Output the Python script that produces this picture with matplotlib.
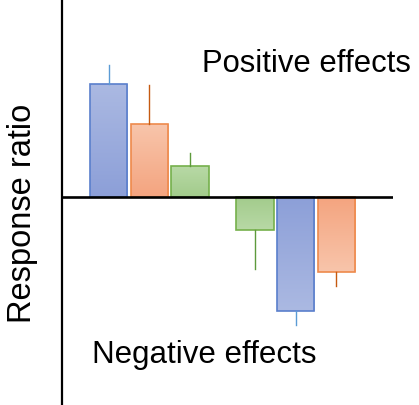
"""
Conceptual bar chart of positive and negative response ratios.

Bars are drawn with a soft vertical gradient (darker at the zero line)
and one-sided error bars pointing away from zero.
"""

import matplotlib

matplotlib.use("Agg")

import matplotlib.pyplot as plt
import numpy as np
from matplotlib.colors import LinearSegmentedColormap

# Data (response ratio, arbitrary units).
positions = [0.0, 1.0, 2.0, 3.6, 4.6, 5.6]
values = [1.125, 0.73, 0.305, -0.335, -1.142, -0.749]
errors = [0.19, 0.387, 0.133, 0.384, 0.137, 0.136]
series = ["blue", "orange", "green", "green", "blue", "orange"]

# Style per series: (colour near zero, colour away from zero, edge, error bar).
STYLES = {
    "blue": ("#8c9fd8", "#abb9e2", "#5a7fcc", "#5b9bd5"),
    "orange": ("#f4a47f", "#f8c5ab", "#ee8a4c", "#c55a11"),
    "green": ("#a2cb8b", "#b8d9a6", "#75b04c", "#5e9a3c"),
}

BAR_WIDTH = 0.92
FONT = "Liberation Sans"


def draw_gradient_bar(ax, x, value, err, style):
    """Draw one bar with a vertical gradient fill, outline and error bar."""
    near, far, edge, err_color = style
    cmap = LinearSegmentedColormap.from_list("grad", [near, far])
    grad = np.linspace(0, 1, 256).reshape(-1, 1)
    left = x - BAR_WIDTH / 2
    right = x + BAR_WIDTH / 2
    # origin="lower" puts row 0 at y=0 so the dark end sits on the zero line.
    if value >= 0:
        extent = (left, right, 0, value)
        img = grad
    else:
        extent = (left, right, value, 0)
        img = grad[::-1]
    ax.imshow(
        img,
        cmap=cmap,
        extent=extent,
        origin="lower",
        aspect="auto",
        interpolation="bicubic",
        zorder=1,
    )
    ax.bar(
        x,
        value,
        width=BAR_WIDTH,
        facecolor="none",
        edgecolor=edge,
        linewidth=1.2,
        zorder=2,
    )
    # One-sided error bar pointing away from zero.
    tip = value + np.sign(value) * err
    ax.plot([x, x], [value, tip], color=err_color, linewidth=1.0, zorder=2)


def main():
    fig = plt.figure(figsize=(4.19, 4.05), dpi=100)
    ax = fig.add_axes([62 / 419, 0.0, (393 - 62) / 419, 1.0])

    for x, v, e, s in zip(positions, values, errors, series):
        draw_gradient_bar(ax, x, v, e, STYLES[s])

    ax.set_xlim(-1.145, 6.99)
    ax.set_ylim(-2.08, 1.97)

    # Only the y axis line and the zero line are shown.
    for side in ("top", "right", "bottom"):
        ax.spines[side].set_visible(False)
    ax.spines["left"].set_linewidth(1.6)
    ax.axhline(0, color="black", linewidth=1.9, zorder=3)
    ax.set_xticks([])
    ax.set_yticks([])

    fig.text(
        202 / 419,
        (405 - 71.7) / 405,
        "Positive effects",
        fontsize=22.3,
        family=FONT,
        va="baseline",
        ha="left",
    )
    fig.text(
        91.7 / 419,
        (405 - 362.7) / 405,
        "Negative effects",
        fontsize=22.5,
        family=FONT,
        va="baseline",
        ha="left",
    )
    fig.text(
        22 / 419,
        (405 - 213) / 405,
        "Response ratio",
        fontsize=23.5,
        family=FONT,
        rotation=90,
        va="center",
        ha="center",
    )

    fig.savefig("out.png", dpi=100)
    plt.close(fig)


if __name__ == "__main__":
    main()
